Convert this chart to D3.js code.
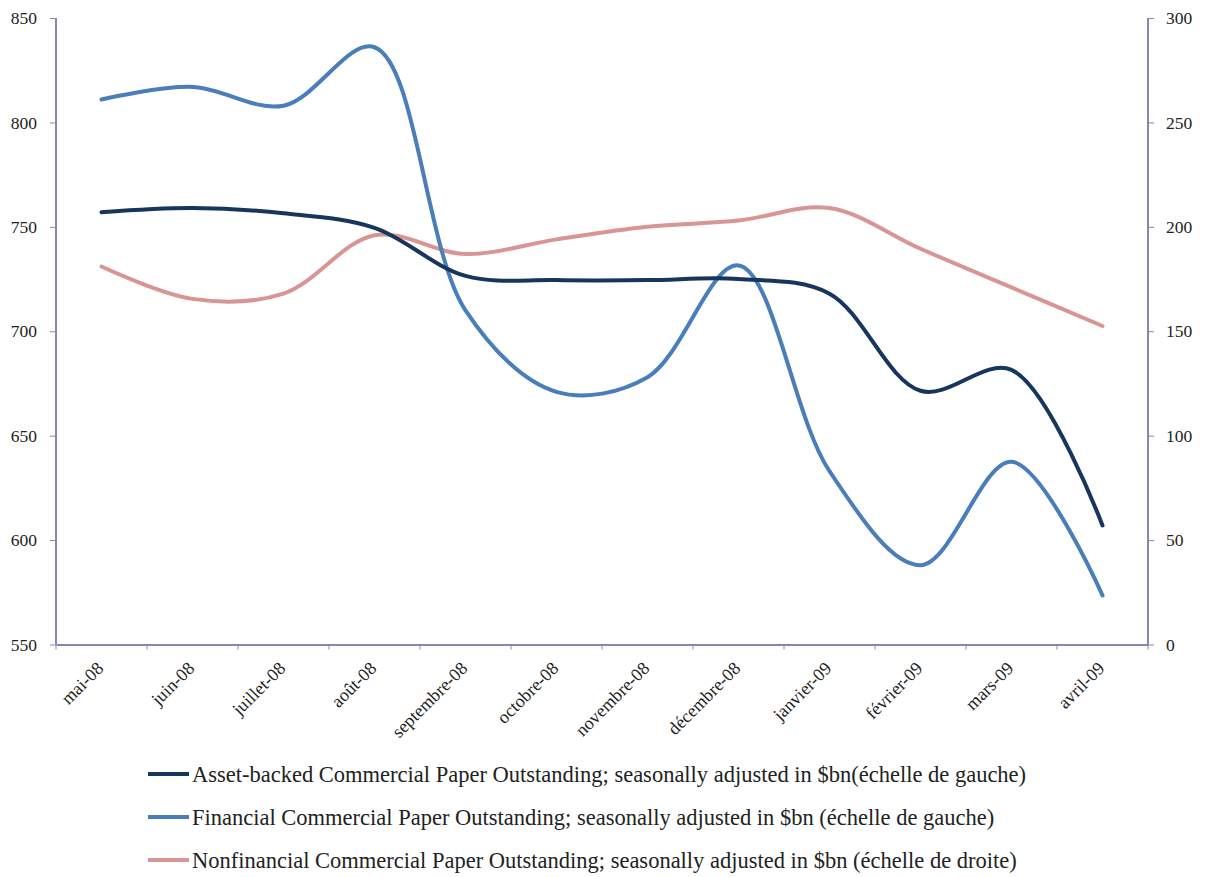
<!DOCTYPE html>
<html>
<head>
<meta charset="utf-8">
<script src="https://cdn.jsdelivr.net/npm/d3@7"></script>
<style>
  html, body { margin: 0; padding: 0; background: #fff; }
  svg { display: block; }
  text { font-family: "Liberation Serif", "DejaVu Serif", serif; fill: #222; }
</style>
</head>
<body>
<svg id="chart" width="1214" height="877"></svg>
<script>
// Months on the category axis
const months = ["mai-08", "juin-08", "juillet-08", "août-08", "septembre-08", "octobre-08",
  "novembre-08", "décembre-08", "janvier-09", "février-09", "mars-09", "avril-09"];

// Commercial paper outstanding, seasonally adjusted, $bn
const assetBacked = [757, 759, 756.5, 749.5, 726.5, 724.5, 724.5, 725, 718, 671.5, 681.5, 607];
const financial = [811, 817, 808, 836, 710, 671, 678, 731.5, 633, 588, 637.5, 573.5];
const nonfinancial = [181, 165.5, 168, 196, 187, 194, 200, 203, 209, 189.5, 171, 152.5];

// Axis ticks
const leftTicks = [550, 600, 650, 700, 750, 800, 850];
const rightTicks = [0, 50, 100, 150, 200, 250, 300];

const seriesLabels = [
  "Asset-backed Commercial Paper Outstanding; seasonally adjusted in $bn(échelle de gauche)",
  "Financial Commercial Paper Outstanding; seasonally adjusted in $bn (échelle de gauche)",
  "Nonfinancial Commercial Paper Outstanding; seasonally adjusted in $bn (échelle de droite)"
];
const seriesColors = ["#17365D", "#4A7EBB", "#D99594"];

const svg = d3.select("#chart");
const plot = { left: 56, right: 1148, top: 18, bottom: 644.5 };
const axisColor = "#8886AE";
const serif = "'Liberation Serif', 'DejaVu Serif', serif";

const x = d3.scaleBand().domain(months).range([plot.left, plot.right]).padding(0);
const yL = d3.scaleLinear().domain([550, 850]).range([plot.bottom, plot.top]);
const yR = d3.scaleLinear().domain([0, 300]).range([plot.bottom, plot.top]);
const cx = m => x(m) + x.bandwidth() / 2;

// Left value axis
const gL = svg.append("g").attr("transform", `translate(${plot.left},0)`)
  .call(d3.axisLeft(yL).tickValues(leftTicks).tickSize(6).tickPadding(13).tickFormat(d3.format("d")));
// Right value axis
const gR = svg.append("g").attr("transform", `translate(${plot.right},0)`)
  .call(d3.axisRight(yR).tickValues(rightTicks).tickSize(6).tickPadding(12).tickFormat(d3.format("d")));
// Category axis, tick marks between categories
const gX = svg.append("g").attr("transform", `translate(0,${plot.bottom})`)
  .call(d3.axisBottom(x).tickSize(0).tickFormat(""));
gX.selectAll(".tick").remove();
gX.selectAll(".boundary").data(d3.range(months.length + 1)).join("line")
  .attr("class", "boundary")
  .attr("x1", i => plot.left + i * x.bandwidth())
  .attr("x2", i => plot.left + i * x.bandwidth())
  .attr("y1", 0).attr("y2", 5)
  .attr("stroke", axisColor).attr("stroke-width", 1);
gX.selectAll(".lbl").data(months).join("text")
  .attr("class", "lbl")
  .attr("transform", d => `translate(${cx(d) + 3},${25}) rotate(-45)`)
  .attr("text-anchor", "end")
  .attr("font-size", 18)
  .style("font-family", serif)
  .text(d => d);

[gL, gR, gX].forEach(g => {
  g.attr("font-family", serif);
  g.select(".domain").attr("stroke", axisColor).attr("stroke-width", 2);
  g.selectAll(".tick line").attr("stroke", axisColor);
  g.selectAll(".tick text").attr("font-size", 17.5).attr("fill", "#222")
    .style("font-family", serif);
});
gL.select(".domain").attr("d", `M0,${plot.top}V${plot.bottom}`);
gR.select(".domain").attr("d", `M0,${plot.top}V${plot.bottom}`);

// Smoothed series lines
const curve = d3.curveCatmullRom.alpha(0.5);
const series = [
  { values: assetBacked, y: yL, color: seriesColors[0] },
  { values: financial, y: yL, color: seriesColors[1] },
  { values: nonfinancial, y: yR, color: seriesColors[2] }
];
// Nonfinancial drawn first, asset-backed on top
[2, 1, 0].forEach(k => {
  const s = series[k];
  const line = d3.line().x((d, i) => cx(months[i])).y(d => s.y(d)).curve(curve);
  svg.append("path").datum(s.values)
    .attr("d", line)
    .attr("fill", "none")
    .attr("stroke", s.color)
    .attr("stroke-width", 4)
    .attr("stroke-linecap", "round")
    .attr("stroke-linejoin", "round");
});

// Legend
const legend = svg.append("g");
const legendRows = [774, 817, 860];
seriesLabels.forEach((label, i) => {
  const g = legend.append("g").attr("transform", `translate(148,${legendRows[i]})`);
  g.append("line").attr("x1", 0).attr("x2", 41).attr("y1", 0).attr("y2", 0)
    .attr("stroke", seriesColors[i]).attr("stroke-width", 4);
  g.append("text").attr("x", 44).attr("y", 8).attr("font-size", 22.5)
    .style("font-family", serif).text(label);
});
</script>
</body>
</html>
